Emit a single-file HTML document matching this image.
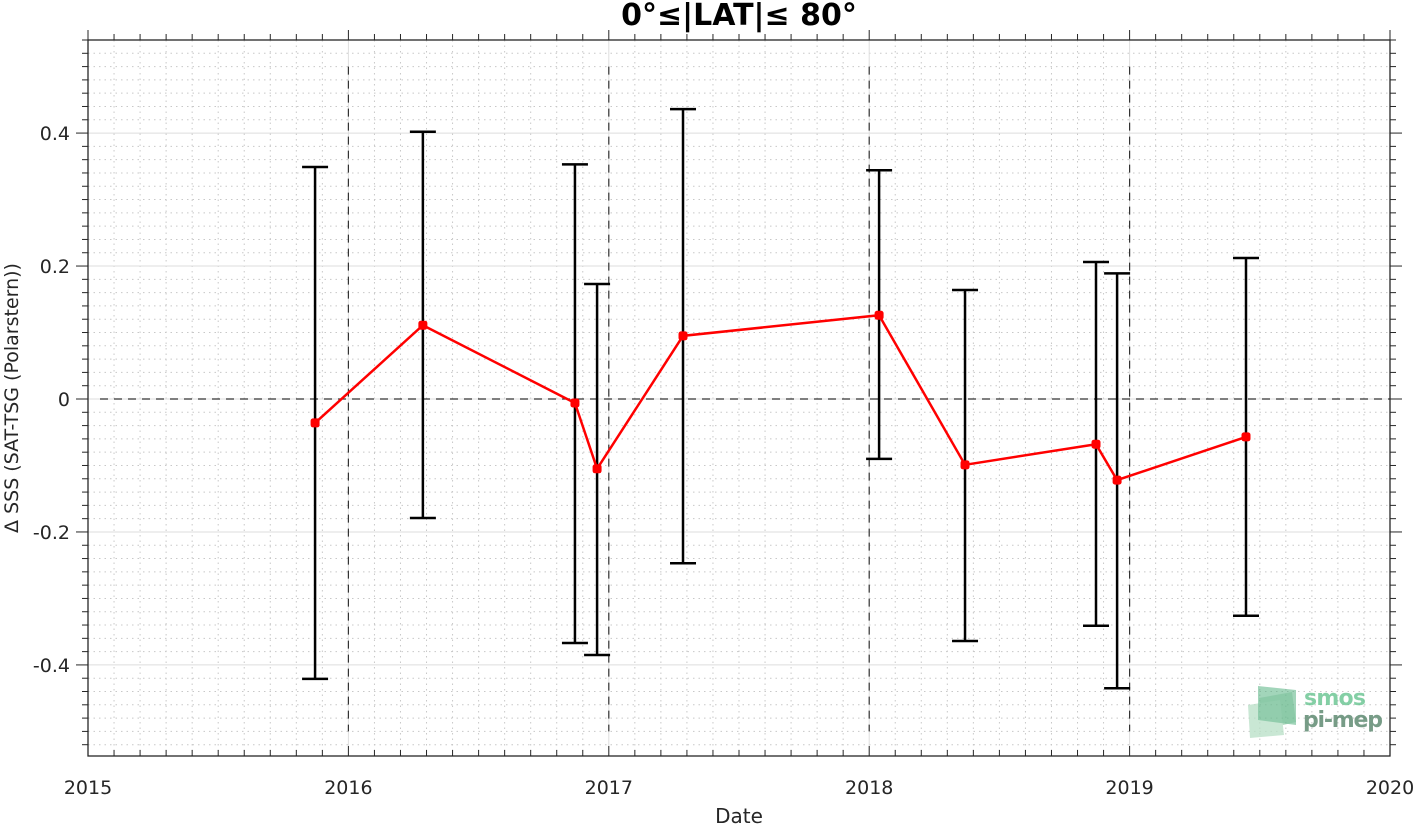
<!DOCTYPE html>
<html><head><meta charset="utf-8"><style>
body{margin:0;background:#fff;width:1415px;height:825px;overflow:hidden;font-family:"Liberation Sans","DejaVu Sans",sans-serif}
svg text{font-family:"DejaVu Sans","Liberation Sans",sans-serif}
</style></head><body>
<svg id="chart" width="1415" height="825" xmlns="http://www.w3.org/2000/svg">
<g id="grid"></g>
<g id="refs"></g>
<g id="bars"></g>
<g id="series"></g>
<g id="axes"></g>
<text x="739" y="25" text-anchor="middle" font-size="30" font-weight="bold" fill="#000">0°≤|LAT|≤ 80°</text>
<text x="739" y="823" text-anchor="middle" font-size="20" fill="#262626">Date</text>
<text transform="translate(18,398) rotate(-90)" text-anchor="middle" font-size="19" fill="#262626">Δ SSS (SAT-TSG (Polarstern))</text>
<g opacity="0.75">
<polygon points="1259,698 1292,692 1296,722 1262,730" fill="#9fd3b3"/>
<polygon points="1248,705 1280,700 1284,735 1250,738" fill="#b8e0c6"/>
<polygon points="1258,686 1296,690 1296,725 1258,720" fill="#4fae7c" opacity="0.7"/>
<text x="1304" y="705" font-size="22" font-weight="bold" fill="#5cbf88" textLength="62">smos</text>
<text x="1303" y="727" font-size="22" font-weight="bold" fill="#4a7c60" textLength="80">pi-mep</text>
</g>
</svg>
<script>
const dates=[2015.872,2016.286,2016.870,2016.955,2017.285,2018.038,2018.368,2018.871,2018.952,2019.447];
const means=[-0.036,0.111,-0.006,-0.105,0.095,0.126,-0.099,-0.068,-0.122,-0.057];
const uppers=[0.349,0.402,0.353,0.173,0.436,0.344,0.164,0.206,0.189,0.212];
const lowers=[-0.421,-0.179,-0.367,-0.385,-0.247,-0.090,-0.364,-0.341,-0.435,-0.326];
const xTicks=[2015,2016,2017,2018,2019,2020];
const yTicks=[-0.4,-0.2,0,0.2,0.4];
const yTickLabels=["-0.4","-0.2","0","0.2","0.4"];

const L=88,R=1390,T=40,B=756,X0=2015,X1=2020,Y0=-0.537,Y1=0.54;
const sx=v=>L+(v-X0)/(X1-X0)*(R-L);
const sy=v=>B-(v-Y0)/(Y1-Y0)*(B-T);
const NS="http://www.w3.org/2000/svg";
function mk(g,tag,a){const e=document.createElementNS(NS,tag);for(const k in a)e.setAttribute(k,a[k]);document.getElementById(g).appendChild(e);return e;}

for(let i=1;i<50;i++){const v=X0+i*0.1;if(i%10===0)continue;
 const e=mk('grid','line',{x1:sx(v),x2:sx(v),y1:T,y2:B,stroke:'#c8c8c8','stroke-dasharray':'1.5 4','stroke-width':1});
 
 mk('axes','line',{x1:sx(v),x2:sx(v),y1:B,y2:B-6,stroke:'#262626'});
 mk('axes','line',{x1:sx(v),x2:sx(v),y1:T,y2:T-6,stroke:'#262626'});}
for(let i=-26;i<=27;i++){const v=i*0.02;if(i%10===0)continue;if(sy(v)<T||sy(v)>B)continue;
 const e=mk('grid','line',{x1:L,x2:R,y1:sy(v),y2:sy(v),stroke:'#c8c8c8','stroke-dasharray':'1.5 4','stroke-width':1});
 
 mk('axes','line',{x1:L,x2:L-6,y1:sy(v),y2:sy(v),stroke:'#262626'});
 mk('axes','line',{x1:R,x2:R+6,y1:sy(v),y2:sy(v),stroke:'#262626'});}
xTicks.forEach(v=>{const e=mk('grid','line',{x1:sx(v),x2:sx(v),y1:T,y2:B,stroke:'#dedede'});
 
 mk('axes','line',{x1:sx(v),x2:sx(v),y1:B,y2:B-10,stroke:'#262626'});
 mk('axes','line',{x1:sx(v),x2:sx(v),y1:T,y2:T-10,stroke:'#262626'});
 const t=mk('axes','text',{x:sx(v),y:B+38,'text-anchor':'middle','font-size':19,fill:'#262626'});t.textContent=v;
 });
yTicks.forEach((v,i)=>{const e=mk('grid','line',{x1:L,x2:R,y1:sy(v),y2:sy(v),stroke:'#dedede'});
 
 mk('axes','line',{x1:L,x2:L-12,y1:sy(v),y2:sy(v),stroke:'#262626'});
 mk('axes','line',{x1:R,x2:R+12,y1:sy(v),y2:sy(v),stroke:'#262626'});
 const t=mk('axes','text',{x:L-18,y:sy(v)+7,'text-anchor':'end','font-size':19,fill:'#262626'});t.textContent=yTickLabels[i];
 });
[2016,2017,2018,2019].forEach(v=>{const e=mk('refs','line',{x1:sx(v),x2:sx(v),y1:sy(0.5),y2:sy(-0.5),stroke:'#333','stroke-dasharray':'8 6','stroke-width':1.2});
 });
{const e=mk('refs','line',{x1:100,x2:R,y1:sy(0),y2:sy(0),stroke:'#333','stroke-dasharray':'8 6','stroke-width':1.2});
 }
dates.forEach((d,i)=>{const x=sx(d);
 const g=mk('bars','g',{});
 const a=(t,o)=>{const e=document.createElementNS(NS,t);for(const k in o)e.setAttribute(k,o[k]);g.appendChild(e);};
 a('line',{x1:x,x2:x,y1:sy(uppers[i]),y2:sy(lowers[i]),stroke:'#000','stroke-width':2.5});
 a('line',{x1:x-13,x2:x+13,y1:sy(uppers[i]),y2:sy(uppers[i]),stroke:'#000','stroke-width':2.5});
 a('line',{x1:x-13,x2:x+13,y1:sy(lowers[i]),y2:sy(lowers[i]),stroke:'#000','stroke-width':2.5});});
{const e=mk('series','polyline',{points:dates.map((d,i)=>sx(d)+','+sy(means[i])).join(' '),fill:'none',stroke:'#ff0000','stroke-width':2.5});
 }
dates.forEach((d,i)=>{const e=mk('series','rect',{x:sx(d)-4.5,y:sy(means[i])-4.5,width:9,height:9,rx:2.5,fill:'#ff0000'});
 });
{const e=mk('axes','rect',{x:L,y:T,width:R-L,height:B-T,fill:'none',stroke:'#262626','stroke-width':1.3});
 }
</script>
</body></html>
